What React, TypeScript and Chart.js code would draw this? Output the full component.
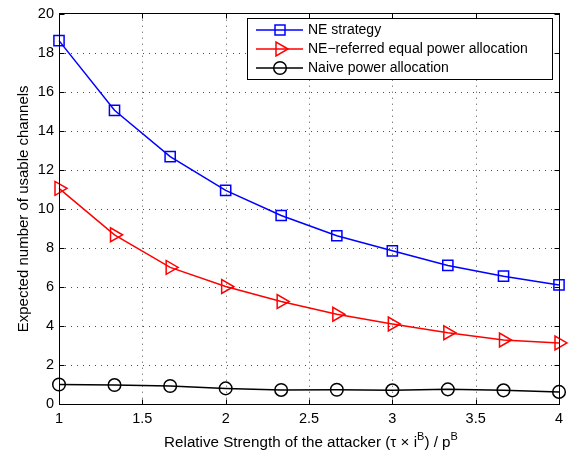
import React, { useEffect, useRef } from 'react';
import { Chart, registerables } from 'chart.js';

Chart.register(...registerables);

const xValues = [1, 1.333, 1.667, 2, 2.333, 2.667, 3, 3.333, 3.667, 4];
const neStrategy = [18.62, 15.05, 12.68, 10.95, 9.66, 8.62, 7.85, 7.1, 6.55, 6.1];
const neReferred = [11.05, 8.67, 7.0, 6.02, 5.25, 4.6, 4.1, 3.65, 3.28, 3.13];
const naive = [1.0, 0.97, 0.92, 0.8, 0.72, 0.73, 0.7, 0.75, 0.7, 0.62];

const seriesLabels = ['NE strategy', 'NE\u2212referred equal power allocation', 'Naive power allocation'];
const seriesColors = ['#0000ff', '#ff0000', '#000000'];
const yTitle = 'Expected number of usable channels';
const xTitleMain1 = 'Relative Strength of the attacker (\u03c4 \u00d7 i';
const xTitleMain2 = ') / p';
const xTitleSup = 'B';

const FONT = "'Liberation Sans', Arial, Helvetica, sans-serif";

function drawMarker(ctx: CanvasRenderingContext2D, kind: number, cx: number, cy: number) {
  ctx.beginPath();
  if (kind === 0) {
    ctx.rect(cx - 5, cy - 5, 10, 10);
  } else if (kind === 1) {
    const r = 8;
    ctx.moveTo(cx + r, cy);
    ctx.lineTo(cx - r / 2, cy - r * 0.866);
    ctx.lineTo(cx - r / 2, cy + r * 0.866);
    ctx.closePath();
  } else {
    ctx.arc(cx, cy, 6.3, 0, Math.PI * 2);
  }
  ctx.stroke();
}

const matlabPlugin = {
  id: 'matlabStyle',
  beforeDatasetsDraw(chart: any) {
    const { ctx, chartArea: a, scales } = chart;
    const x = scales.x;
    const y = scales.y;
    ctx.save();
    ctx.strokeStyle = 'rgba(0,0,0,0.7)';
    ctx.lineWidth = 1;
    ctx.setLineDash([1, 5]);
    x.ticks.forEach((t: any) => {
      if (t.value === x.min || t.value === x.max) return;
      const px = Math.round(x.getPixelForValue(t.value)) + 0.5;
      ctx.beginPath();
      ctx.moveTo(px, a.top);
      ctx.lineTo(px, a.bottom);
      ctx.stroke();
    });
    y.ticks.forEach((t: any) => {
      if (t.value === y.min || t.value === y.max) return;
      const py = Math.round(y.getPixelForValue(t.value)) + 0.5;
      ctx.beginPath();
      ctx.moveTo(a.left, py);
      ctx.lineTo(a.right, py);
      ctx.stroke();
    });
    ctx.restore();
  },
  afterDatasetsDraw(chart: any) {
    const { ctx, chartArea: a, scales } = chart;
    const x = scales.x;
    const y = scales.y;
    const L = Math.floor(a.left) + 0.5;
    const R = Math.floor(a.right) + 0.5;
    const T = Math.floor(a.top) + 0.5;
    const B = Math.floor(a.bottom) + 0.5;
    ctx.save();
    ctx.strokeStyle = '#000';
    ctx.lineWidth = 1;
    ctx.setLineDash([]);
    ctx.strokeRect(L, T, R - L, B - T);
    const tl = 5;
    ctx.beginPath();
    x.ticks.forEach((t: any) => {
      const px = Math.round(x.getPixelForValue(t.value)) + 0.5;
      ctx.moveTo(px, B);
      ctx.lineTo(px, B - tl);
      ctx.moveTo(px, T);
      ctx.lineTo(px, T + tl);
    });
    y.ticks.forEach((t: any) => {
      const py = Math.round(y.getPixelForValue(t.value)) + 0.5;
      ctx.moveTo(L, py);
      ctx.lineTo(L + tl, py);
      ctx.moveTo(R, py);
      ctx.lineTo(R - tl, py);
    });
    ctx.stroke();
    ctx.restore();
  },
  afterDraw(chart: any) {
    const { ctx, chartArea: a } = chart;
    ctx.save();
    ctx.fillStyle = '#000';
    ctx.setLineDash([]);

    // y title
    ctx.save();
    ctx.font = `15px ${FONT}`;
    ctx.textAlign = 'center';
    ctx.textBaseline = 'alphabetic';
    ctx.translate(27.5, (a.top + a.bottom) / 2);
    ctx.rotate(-Math.PI / 2);
    ctx.fillText(yTitle, 0, 0);
    ctx.restore();

    // x title with superscripts
    const mainFont = `15.2px ${FONT}`;
    const supFont = `11px ${FONT}`;
    ctx.textAlign = 'left';
    ctx.textBaseline = 'alphabetic';
    ctx.font = mainFont;
    const w1 = ctx.measureText(xTitleMain1).width;
    const w2 = ctx.measureText(xTitleMain2).width;
    ctx.font = supFont;
    const ws = ctx.measureText(xTitleSup).width;
    const total = w1 + ws + w2 + ws;
    let xx = (a.left + a.right) / 2 - total / 2 + 2;
    const base = 446.5;
    const supBase = 440;
    ctx.font = mainFont;
    ctx.fillText(xTitleMain1, xx, base);
    xx += w1;
    ctx.font = supFont;
    ctx.fillText(xTitleSup, xx, supBase);
    xx += ws;
    ctx.font = mainFont;
    ctx.fillText(xTitleMain2, xx, base);
    xx += w2;
    ctx.font = supFont;
    ctx.fillText(xTitleSup, xx, supBase);

    // legend
    const bx = 247.5, by = 18.5, bw = 305, bh = 61;
    ctx.fillStyle = '#fff';
    ctx.fillRect(bx, by, bw, bh);
    ctx.strokeStyle = '#000';
    ctx.lineWidth = 1;
    ctx.strokeRect(bx, by, bw, bh);
    const rows = [30, 49, 68];
    ctx.font = `14px ${FONT}`;
    ctx.textBaseline = 'middle';
    seriesLabels.forEach((lab, i) => {
      const cy = rows[i];
      ctx.strokeStyle = seriesColors[i];
      ctx.lineWidth = 1.5;
      ctx.beginPath();
      ctx.moveTo(256, cy);
      ctx.lineTo(303, cy);
      ctx.stroke();
      drawMarker(ctx, i, 280, cy);
      ctx.fillStyle = '#000';
      ctx.fillText(lab, 308, cy + 0.5);
    });
    ctx.restore();
  },
};

export default function App() {
  const ref = useRef<HTMLCanvasElement | null>(null);
  useEffect(() => {
    if (!ref.current) return;
    const mk = (vals: number[]) => xValues.map((xv, i) => ({ x: xv, y: vals[i] }));
    const tickFont = { family: FONT, size: 14.5 };
    const chart = new Chart(ref.current, {
      type: 'line',
      data: {
        datasets: [
          {
            label: seriesLabels[0],
            data: mk(neStrategy),
            borderColor: seriesColors[0],
            backgroundColor: 'transparent',
            borderWidth: 1.5,
            pointStyle: 'rect',
            pointRadius: 7.2,
            pointBorderWidth: 1.5,
            pointBorderColor: seriesColors[0],
            pointBackgroundColor: 'transparent',
            clip: false,
          },
          {
            label: seriesLabels[1],
            data: mk(neReferred),
            borderColor: seriesColors[1],
            backgroundColor: 'transparent',
            borderWidth: 1.5,
            pointStyle: 'triangle',
            rotation: 90,
            pointRadius: 8,
            pointBorderWidth: 1.5,
            pointBorderColor: seriesColors[1],
            pointBackgroundColor: 'transparent',
            clip: false,
          },
          {
            label: seriesLabels[2],
            data: mk(naive),
            borderColor: seriesColors[2],
            backgroundColor: 'transparent',
            borderWidth: 1.5,
            pointStyle: 'circle',
            pointRadius: 6.3,
            pointBorderWidth: 1.5,
            pointBorderColor: seriesColors[2],
            pointBackgroundColor: 'transparent',
            clip: false,
          },
        ],
      } as any,
      options: {
        responsive: false,
        devicePixelRatio: 1,
        animation: false,
        layout: { padding: { top: 10, right: 14, left: 0, bottom: 0 } },
        plugins: { legend: { display: false }, tooltip: { enabled: false } },
        elements: { line: { tension: 0 } },
        scales: {
          x: {
            type: 'linear',
            min: 1,
            max: 4,
            grid: { display: false, drawTicks: false },
            border: { display: false },
            ticks: {
              stepSize: 0.5,
              padding: 6,
              color: '#000',
              font: tickFont,
              autoSkip: false,
              maxRotation: 0,
              callback: (v: any) => String(Number(v)),
            },
            afterFit: (s: any) => { s.height = 48; },
          },
          y: {
            type: 'linear',
            min: 0,
            max: 20,
            grid: { display: false, drawTicks: false },
            border: { display: false },
            ticks: {
              stepSize: 2,
              padding: 5,
              color: '#000',
              font: tickFont,
              autoSkip: false,
              callback: (v: any) => String(Number(v)),
            },
            afterFit: (s: any) => { s.width = 59; },
          },
        },
      } as any,
      plugins: [matlabPlugin],
    });
    return () => chart.destroy();
  }, []);
  return (
    <div style={{ position: 'absolute', left: 0, top: 0, width: 573, height: 452, background: '#fff' }}>
      <canvas ref={ref} width={573} height={452} style={{ display: 'block' }} />
    </div>
  );
}
